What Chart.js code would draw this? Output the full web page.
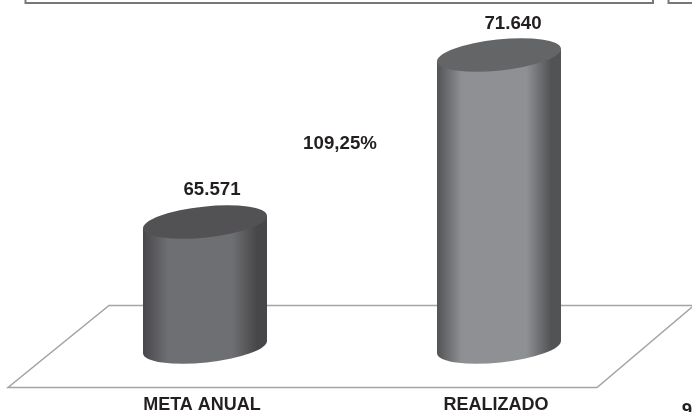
<!DOCTYPE html>
<html>
<head>
<meta charset="utf-8">
<style>
    html, body { margin: 0; padding: 0; background: #fff; }
    #wrap { position: relative; width: 692px; height: 412px; overflow: hidden; }
</style>
<script src="https://cdn.jsdelivr.net/npm/chart.js@4"></script>
</head>
<body>
<div id="wrap"><canvas id="myChart" width="692" height="412"></canvas></div>
<script>
const categories = ['META ANUAL', 'REALIZADO'];
const values = [65571, 71640];
const valueLabels = ['65.571', '71.640'];
const percentLabel = '109,25%';
const cutLabel = '9';
const axisMin = 61030;
const axisMax = 73640;

// cores de cada cilindro: borda, centro, tampa
const barColors = [
    { edge: '#47474a', mid: '#6e6f72', top: '#525254' },
    { edge: '#525355', mid: '#8f9093', top: '#646567' }
];
const textColor = '#231f20';
const floorColor = '#a3a4a6';

//region Cilindros, piso e textos
function ellipsePath(c, x, y, a, b, rot) {
    c.beginPath();
    c.ellipse(x, y, a, b, rot, 0, Math.PI * 2);
}

const cylinders = {
    id: 'cylinders',
    beforeDatasetsDraw(chart) {
        const c = chart.ctx;
        c.save();
        // piso
        c.strokeStyle = floorColor;
        c.lineWidth = 1.5;
        c.beginPath();
        c.moveTo(700, 305.5);
        c.lineTo(109, 305.5);
        c.lineTo(8, 387.5);
        c.lineTo(597, 387.5);
        c.lineTo(692, 307);
        c.stroke();
        // molduras de cima
        c.strokeStyle = '#77787a';
        c.lineWidth = 2;
        c.beginPath();
        c.moveTo(25.5, -2);
        c.lineTo(25.5, 3);
        c.lineTo(653, 3);
        c.lineTo(653, -2);
        c.moveTo(668.5, -2);
        c.lineTo(668.5, 3);
        c.lineTo(700, 3);
        c.stroke();
        c.restore();
    },
    afterDatasetsDraw(chart) {
        const c = chart.ctx;
        const rot = -6 * Math.PI / 180;
        chart.getDatasetMeta(0).data.forEach((bar, i) => {
            const col = barColors[i];
            const half = bar.width / 2;
            const a = half * 1.005;
            const b = 15.5;
            // pontos de tangencia da elipse inclinada
            const d = (a * a - b * b) * Math.sin(-rot) * Math.cos(rot) / half;
            const grad = c.createLinearGradient(bar.x - half, 0, bar.x + half, 0);
            grad.addColorStop(0, col.edge);
            grad.addColorStop(0.2, col.mid);
            grad.addColorStop(0.72, col.mid);
            grad.addColorStop(0.92, col.edge);
            grad.addColorStop(1, col.edge);
            c.save();
            c.fillStyle = grad;
            ellipsePath(c, bar.x, bar.base, a, b, rot);
            c.fill();
            c.beginPath();
            c.moveTo(bar.x - half, bar.y + d);
            c.lineTo(bar.x - half, bar.base + d);
            c.lineTo(bar.x + half, bar.base - d);
            c.lineTo(bar.x + half, bar.y - d);
            c.closePath();
            c.fill();
            // tampa
            c.fillStyle = col.top;
            ellipsePath(c, bar.x, bar.y, a, b, rot);
            c.fill();
            c.restore();
        });
    },
    afterDraw(chart) {
        const c = chart.ctx;
        const bars = chart.getDatasetMeta(0).data;
        c.save();
        c.fillStyle = textColor;
        c.font = 'bold 18.7px "Liberation Sans"';
        c.textAlign = 'center';
        c.textBaseline = 'middle';
        c.fillText(valueLabels[0], bars[0].x + 7, bars[0].y - 32);
        c.fillText(valueLabels[1], bars[1].x + 14, bars[1].y - 31);
        c.fillText(percentLabel, 340, 144);
        c.fillText(cutLabel, 687, 411);
        c.restore();
    }
};
//endregion

//region Инициализация
const ctx = document.getElementById('myChart');
let chart = new Chart(ctx, {
    type: 'bar',
    data: {
        labels: categories,
        datasets: [{
            data: values,
            base: axisMin,
            backgroundColor: 'rgba(0,0,0,0)',
            categoryPercentage: 1,
            barPercentage: 0.4218
        }]
    },
    options: {
        responsive: false,
        animation: false,
        layout: { padding: { left: 58, right: 46, top: 0, bottom: 0 } },
        plugins: { legend: { display: false }, tooltip: { enabled: false } },
        scales: {
            x: {
                grid: { display: false },
                border: { display: false },
                afterFit: function (scale) { scale.height = 65; },
                ticks: {
                    padding: 39,
                    labelOffset: -3,
                    maxRotation: 0,
                    color: textColor,
                    font: { family: '"Liberation Sans"', size: 18, weight: 'bold' }
                }
            },
            y: {
                display: false,
                min: axisMin,
                max: axisMax
            }
        }
    },
    plugins: [cylinders]
});
//endregion
</script>
</body>
</html>
